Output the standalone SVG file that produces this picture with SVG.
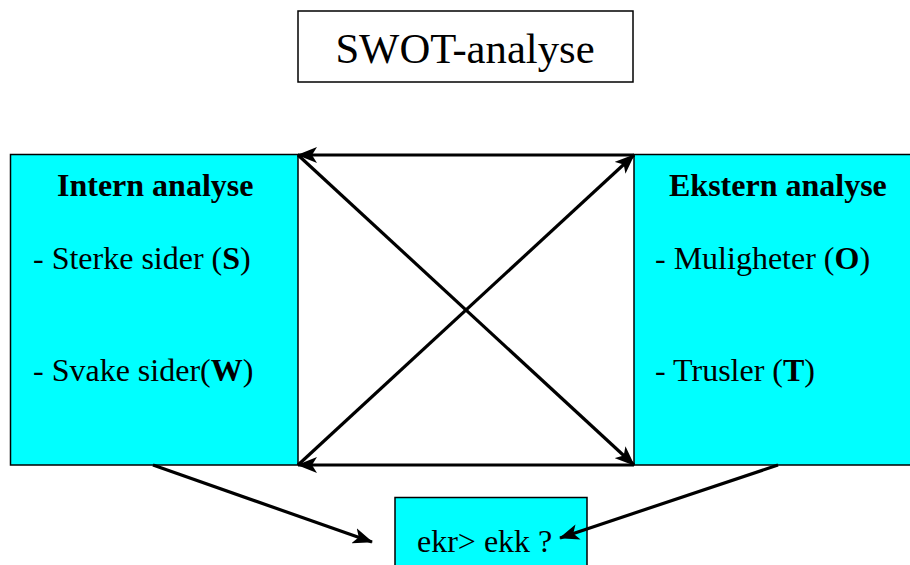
<svg xmlns="http://www.w3.org/2000/svg" width="910" height="565" viewBox="0 0 910 565">
  <style>
    .box { fill: #00ffff; stroke: #000; stroke-width: 1.5; }
    .frame { fill: #fff; stroke: #000; stroke-width: 1.5; }
    .txt { font-family: "Liberation Serif", "Times New Roman", serif; font-size: 32px; fill: #000; }
    .head { font-weight: bold; }
    .title { font-size: 42.7px; }
    .link { stroke: #000; stroke-width: 3.2; fill: none; marker-end: url(#head); }
  </style>
  <defs>
    <marker id="head" viewBox="0 0 20 16" refX="19" refY="8" markerWidth="20" markerHeight="16" markerUnits="userSpaceOnUse" orient="auto">
      <path d="M0,0 L20,8 L0,16 L5,8 z" fill="#000"/>
    </marker>
  </defs>

  <rect width="910" height="565" fill="#fff"/>

  <!-- heading -->
  <g id="title">
    <rect class="frame" x="298" y="11" width="335" height="71"/>
    <text class="txt title" x="465" y="63" text-anchor="middle">SWOT-analyse</text>
  </g>

  <!-- internal factors -->
  <g id="intern">
    <rect class="box" x="10.5" y="154.5" width="287.5" height="310.5"/>
    <text class="txt head" x="57" y="196">Intern analyse</text>
    <text class="txt" x="33" y="269">- Sterke sider (<tspan class="head">S</tspan>)</text>
    <text class="txt" x="33" y="381">- Svake sider(<tspan class="head">W</tspan>)</text>
  </g>

  <!-- external factors -->
  <g id="ekstern">
    <rect class="box" x="634" y="154.5" width="280" height="310.5"/>
    <text class="txt head" x="669" y="196">Ekstern analyse</text>
    <text class="txt" x="655" y="269">- Muligheter (<tspan class="head">O</tspan>)</text>
    <text class="txt" x="655" y="381">- Trusler (<tspan class="head">T</tspan>)</text>
  </g>

  <!-- result -->
  <g id="resultat">
    <rect class="box" x="395" y="497.5" width="192" height="80"/>
    <text class="txt" x="417" y="552">ekr&gt; ekk ?</text>
  </g>

  <!-- connectors -->
  <g id="connectors">
    <line class="link" x1="634" y1="155" x2="298" y2="155"/>
    <line class="link" x1="634" y1="465" x2="298" y2="465"/>
    <line class="link" x1="298" y1="155" x2="634" y2="465"/>
    <line class="link" x1="298" y1="465" x2="634" y2="155"/>
    <line class="link" x1="153" y1="465" x2="372" y2="542"/>
    <line class="link" x1="778" y1="465" x2="560" y2="538"/>
  </g>
</svg>
